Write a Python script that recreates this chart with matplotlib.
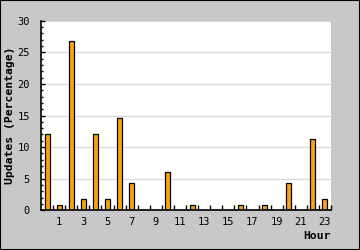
import numpy as np
import matplotlib
matplotlib.use("Agg")
import matplotlib.pyplot as plt
from matplotlib.patches import Rectangle
from matplotlib.ticker import MultipleLocator, FixedLocator

# share of updates per hour of day (percent)
hours = list(range(24))
updates = [12.07, 0.86, 26.72, 1.72, 12.07, 1.72, 14.66, 4.31, 0, 0, 6.03, 0,
           0.86, 0, 0, 0, 0.86, 0, 0.86, 0, 4.31, 0, 11.21, 1.72]
tick_hours = list(range(1, 24, 2))
tick_labels = [str(h) for h in tick_hours]

plt.rcParams['font.family'] = ['DejaVu Sans Mono']

fig = plt.figure(figsize=(3.6, 2.5), dpi=100)
fig.patch.set_facecolor('#c8c8c8')
ax = fig.add_axes([41/360, 1 - 210.3/250, 290/360, 189.6/250])
ax.set_facecolor('white')

ax.bar(hours, updates, width=0.42, color='#ffa500', edgecolor='black',
       linewidth=0.9, zorder=3)

ax.set_xlim(-0.5, 23.5)
ax.set_ylim(0, 30)

for s in ['top', 'right']:
    ax.spines[s].set_visible(False)
for s in ['left', 'bottom']:
    ax.spines[s].set_linewidth(1.2)
    ax.spines[s].set_zorder(4)

ax.yaxis.set_major_locator(MultipleLocator(5))
ax.yaxis.set_minor_locator(MultipleLocator(1))
ax.tick_params(axis='y', which='major', direction='in', length=3, width=1,
               labelsize=7.5, pad=8)
ax.tick_params(axis='y', which='minor', direction='in', length=1.6, width=1)
ax.grid(axis='y', which='major', color='#d8d8d8', linewidth=0.9, zorder=0)

ax.set_xticks(tick_hours)
ax.set_xticklabels(tick_labels)
ax.xaxis.set_minor_locator(FixedLocator(np.arange(0.5, 24, 1)))
ax.tick_params(axis='x', which='major', length=0, labelsize=7.5, pad=5)
ax.tick_params(axis='x', which='minor', direction='in', length=3.6, width=1)

ax.set_ylabel('Updates (Percentage)', fontsize=8.2, fontweight='bold')
ax.yaxis.set_label_coords(-25.5/290, 0.5)
ax.set_xlabel('Hour', fontsize=8.2, fontweight='bold', loc='right', labelpad=2.5)

fig.add_artist(Rectangle((0, 0), 1, 1, transform=fig.transFigure, fill=False,
                         edgecolor='black', linewidth=1.5))

fig.savefig('out.png', dpi=100, facecolor=fig.get_facecolor())
